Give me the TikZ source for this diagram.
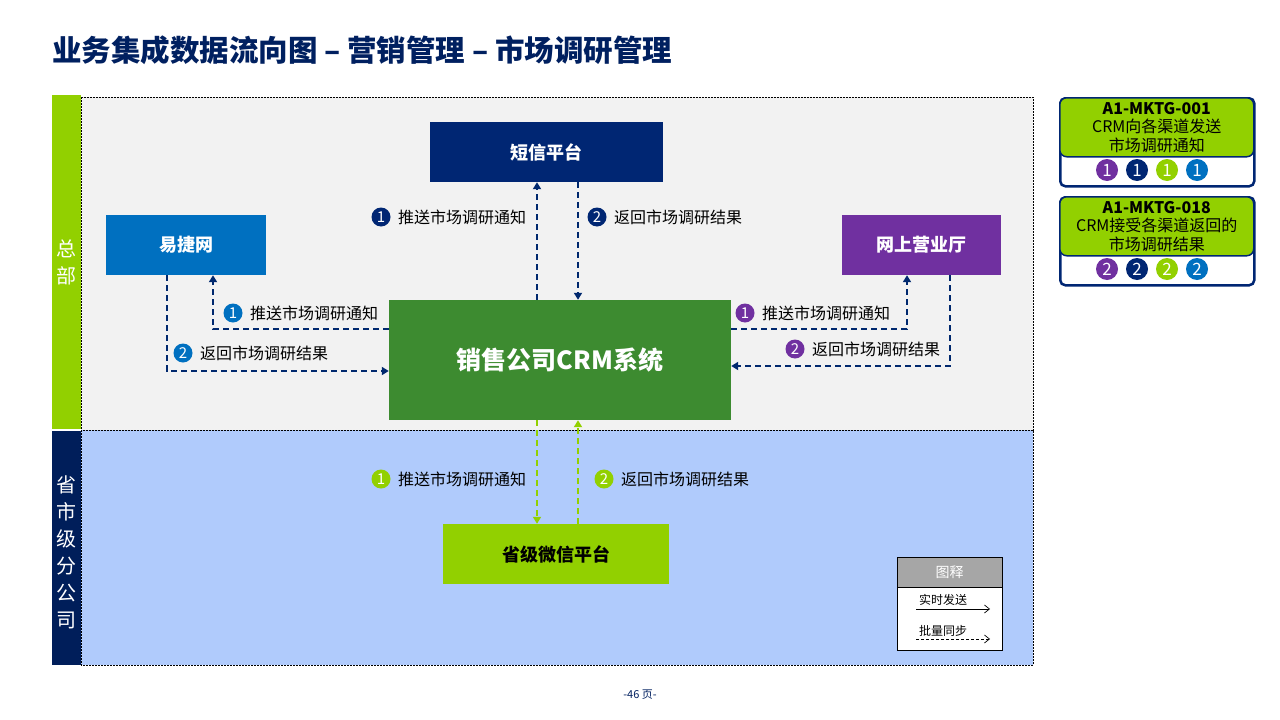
\documentclass[tikz,border=0pt]{standalone}
\usepackage{fontspec}
\setmainfont{Noto Sans CJK SC}
\usetikzlibrary{arrows.meta,calc}
\definecolor{titlenavy}{RGB}{0,32,96}
\definecolor{boxnavy}{RGB}{0,38,115}
\definecolor{sidenavy}{RGB}{0,30,90}
\definecolor{linenavy}{RGB}{0,40,110}
\definecolor{cblue}{RGB}{0,112,192}
\definecolor{cpurple}{RGB}{112,48,160}
\definecolor{crmgreen}{RGB}{61,139,48}
\definecolor{lime}{RGB}{146,208,0}
\definecolor{graybg}{RGB}{242,242,242}
\definecolor{bluebg}{RGB}{176,203,252}
\definecolor{leggray}{RGB}{166,166,166}
\tikzset{
  sysbox/.style={draw=none,inner sep=0pt,font=\fontsize{18}{20}\selectfont\bfseries,text=white},
  flow/.style={line width=1.8pt,dash pattern=on 6pt off 4pt,-{Triangle[length=7pt,width=8pt]}},
  num/.style={circle,fill=#1,inner sep=0pt,minimum size=19pt,text=white,font=\fontsize{15}{15}\selectfont},
  lbl/.style={anchor=west,inner sep=0pt,font=\fontsize{16}{18}\selectfont,text=black},
  sidetxt/.style={text=white,font=\fontsize{20}{27}\selectfont,align=center,inner sep=0pt},
  idnum/.style={circle,fill=#1,inner sep=0pt,minimum size=22pt,text=white,font=\fontsize{17}{17}\selectfont},
}
\begin{document}
\begin{tikzpicture}[x=1pt,y=-1pt]
\useasboundingbox (0,0) rectangle (1280,720);
\fill[white] (0,0) rectangle (1280,720);
% title
\node[anchor=west,inner sep=0pt,text=titlenavy,font=\fontsize{29.5}{32}\selectfont\bfseries] (title) at (52,50) {业务集成数据流向图 – 营销管理 – 市场调研管理};
% areas
\fill[graybg] (81,97) rectangle (1033,430);
\draw[black,line width=0.6pt,dash pattern=on 2pt off 1pt] (81,97) rectangle (1033,430);
\fill[bluebg] (81,430) rectangle (1033,665);
\draw[black,line width=0.6pt,dash pattern=on 2pt off 1pt] (81,430) rectangle (1033,665);
\fill[lime] (52,95) rectangle (81,429);
\fill[sidenavy] (52,431) rectangle (81,665);
\node[sidetxt] (hq) at (66.5,262) {总\\部};
\node[sidetxt] (prov) at (66.5,552) {省\\市\\级\\分\\公\\司};
% systems
\node[sysbox,fill=boxnavy,minimum width=233pt,minimum height=60pt] (sms) at (546.5,152) {短信平台};
\node[sysbox,fill=cblue,minimum width=160pt,minimum height=60pt] (yj) at (186,245) {易捷网};
\node[sysbox,fill=cpurple,minimum width=159pt,minimum height=60pt] (wy) at (921.5,245) {网上营业厅};
\node[sysbox,fill=crmgreen,minimum width=342pt,minimum height=120pt,font=\fontsize{25}{28}\selectfont\bfseries] (crm) at (560,360) {销售公司CRM系统};
\node[sysbox,fill=lime,text=black,minimum width=226pt,minimum height=60pt] (wx) at (556,554) {省级微信平台};
% coordinates
\coordinate (xa) at (537,0);
\coordinate (xb) at (578,0);
\coordinate (p1) at (213,329);
\coordinate (p2) at (167,371);
\coordinate (p3) at (907,329);
\coordinate (p4) at (950,366);
% flows SMS
\draw[flow,linenavy] (crm.north -| xa) -- (sms.south -| xa);
\draw[flow,linenavy] (sms.south -| xb) -- (crm.north -| xb);
\node[num=boxnavy] (n1) at (381,217) {1};
\node[lbl] (t1) at (398,217) {推送市场调研通知};
\node[num=boxnavy] (n2) at (597,217) {2};
\node[lbl] (t2) at (614,217) {返回市场调研结果};
% flows YJ
\draw[flow,linenavy] (crm.west |- p1) -| (yj.south -| p1);
\draw[flow,linenavy] (yj.south -| p2) |- (crm.west |- p2);
\node[num=cblue] (n3) at (233,313) {1};
\node[lbl] (t3) at (250,313) {推送市场调研通知};
\node[num=cblue] (n4) at (183,353) {2};
\node[lbl] (t4) at (200,353) {返回市场调研结果};
% flows WY
\draw[flow,linenavy] (crm.east |- p3) -| (wy.south -| p3);
\draw[flow,linenavy] (wy.south -| p4) |- (crm.east |- p4);
\node[num=cpurple] (n5) at (745,313) {1};
\node[lbl] (t5) at (762,313) {推送市场调研通知};
\node[num=cpurple] (n6) at (795,349) {2};
\node[lbl] (t6) at (812,349) {返回市场调研结果};
% flows WX
\draw[flow,lime] (crm.south -| xa) -- (wx.north -| xa);
\draw[flow,lime] (wx.north -| xb) -- (crm.south -| xb);
\node[num=lime] (n7) at (381,479) {1};
\node[lbl] (t7) at (398,479) {推送市场调研通知};
\node[num=lime] (n8) at (604,479) {2};
\node[lbl] (t8) at (621,479) {返回市场调研结果};
% legend
\node[draw=black,line width=0.8pt,fill=white,minimum width=105pt,minimum height=93pt,inner sep=0pt] (leg) at (949.5,603.5) {};
\node[fill=leggray,draw=black,line width=0.8pt,minimum width=105pt,minimum height=30pt,inner sep=0pt,text=white,font=\fontsize{14}{14}\selectfont] (leghead) at (949.5,572) {图释};
\node[inner sep=0pt,font=\fontsize{12}{12}\selectfont] (lg1) at (943,600) {实时发送};
\node[inner sep=0pt,font=\fontsize{12}{12}\selectfont] (lg2) at (943,631) {批量同步};
\coordinate (l1a) at (916,609);
\coordinate (l1b) at (990,609);
\coordinate (l2a) at (916,639);
\coordinate (l2b) at (990,639);
\draw[black,line width=0.7pt,-{Straight Barb[length=5pt,width=8pt]}] (l1a) -- (l1b);
\draw[black,line width=0.7pt,dash pattern=on 3pt off 2pt,-{Straight Barb[length=5pt,width=8pt]}] (l2a) -- (l2b);
% id boxes
\foreach \yy/\code/\la/\lb/\n [count=\i] in {96/A1-MKTG-001/CRM向各渠道发送/市场调研通知/1, 195/A1-MKTG-018/CRM接受各渠道返回的/市场调研结果/2}{
  \node[draw=boxnavy,line width=2.5pt,fill=white,rounded corners=5pt,minimum width=194pt,minimum height=88pt,inner sep=0pt,anchor=north west] (idb\i) at (1059,\yy+1) {};
  \node[draw=boxnavy,line width=1.5pt,fill=lime,rounded corners=7pt,minimum width=194pt,minimum height=59pt,inner sep=0pt,anchor=north west,align=center,font=\fontsize{16}{18.5}\selectfont] (idh\i) at (1059,\yy+1) {\textbf{\code}\\\la\\\lb};
  \node[idnum=cpurple] (c\i a) at (1107,\yy+74) {\n};
  \node[idnum=boxnavy] (c\i b) at (1137,\yy+74) {\n};
  \node[idnum=lime] (c\i c) at (1167,\yy+74) {\n};
  \node[idnum=cblue] (c\i d) at (1197,\yy+74) {\n};
}
% page number
\node[inner sep=0pt,text=titlenavy,font=\fontsize{11}{11}\selectfont] (pg) at (640,695) {-46 页-};
\end{tikzpicture}
\end{document}
